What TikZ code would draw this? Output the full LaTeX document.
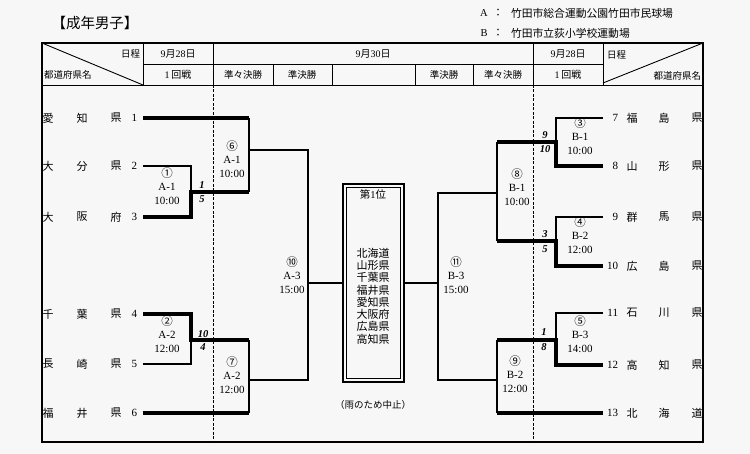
\documentclass[tikz,border=0pt]{standalone}
\usepackage{fontspec}
\setmainfont{Liberation Serif}
\newfontfamily\jp{Noto Sans CJK JP}
\newcommand\LeftTeam[6]{%
  \node[tn] (#1a) at (48,#2) {#3};
  \node[tn] (#1b) at (82,#2) {#4};
  \node[tn] (#1c) at (116,#2) {#5};
  \node[num, anchor=east] (#1n) at (137,#2) {#6};
  \coordinate (#1) at (143,#2);}
\newcommand\RightTeam[6]{%
  \node[num, anchor=east] (#1n) at (618,#2) {#6};
  \node[tn] (#1a) at (632,#2) {#3};
  \node[tn] (#1b) at (664,#2) {#4};
  \node[tn] (#1c) at (697,#2) {#5};
  \coordinate (#1) at (603,#2);}
\newcommand\circnum[1]{{\jp\fontsize{11.5}{13.5}\selectfont #1}}
\begin{document}
\begin{tikzpicture}[x=1pt,y=-1pt,
  every node/.style={inner sep=0pt, outer sep=0pt},
  thinln/.style={line width=1.1pt, line join=miter},
  thickln/.style={line width=3.2pt, line join=miter},
  border/.style={line width=2pt},
  grid/.style={line width=0.9pt},
  dashln/.style={line width=0.9pt, dash pattern=on 3pt off 1.5pt},
  hdr/.style={font=\jp\fontsize{9.5}{11}\selectfont},
  hdrn/.style={font=\fontsize{10}{11}\selectfont},
  tn/.style={font=\jp\fontsize{11}{12}\selectfont},
  num/.style={font=\fontsize{11}{12}\selectfont},
  lbl/.style={align=center, font=\fontsize{11}{13.5}\selectfont},
  score/.style={font=\bfseries\itshape\fontsize{10.5}{12}\selectfont},
  leg/.style={font=\jp\fontsize{10.8}{12}\selectfont, anchor=west},
]
\path[fill=black!3] (0,0) rectangle (750,454);
\useasboundingbox (0,0) rectangle (750,454);

% title and legend
\node[font=\jp\fontsize{14.5}{16}\selectfont] (title) at (95,23) {【成年男子】};
\node[font=\fontsize{10.5}{12}\selectfont] (la) at (484,13) {A};
\node[font=\jp\fontsize{10.5}{12}\selectfont] (lac) at (498,13) {：};
\node[leg] (lat) at (511,13) {竹田市総合運動公園竹田市民球場};
\node[font=\fontsize{10.5}{12}\selectfont] (lb) at (484,33) {B};
\node[font=\jp\fontsize{10.5}{12}\selectfont] (lbc) at (498,33) {：};
\node[leg] (lbt) at (511,33) {竹田市立荻小学校運動場};

% table frame
\draw[border] (42,43) rectangle (703,442);
\draw[grid] (143,64) -- (603,64);
\draw[grid] (42,85) -- (703,85);
\foreach \x in {143,213,533,603} \draw[grid] (\x,43) -- (\x,85);
\foreach \x in {273,332,415,473} \draw[grid] (\x,64) -- (\x,85);
\draw[grid] (42,43) -- (143,85);
\draw[grid] (603,83) -- (703,43);
\draw[dashln] (213,85) -- (213,442);
\draw[dashln] (533,85) -- (533,442);

% header texts
\node[hdr, anchor=east] (h1) at (140,54) {日程};
\node[hdr, anchor=west] (h2) at (44,75) {都道府県名};
\node[hdrn] (h3) at (178,54) {9{\jp 月}28{\jp 日}};
\node[hdrn] (h4) at (178,75) {1\,{\jp 回戦}};
\node[hdrn] (h5) at (373,54) {9{\jp 月}30{\jp 日}};
\node[hdr] (h6) at (243,75) {準々決勝};
\node[hdr] (h7) at (302,75) {準決勝};
\node[hdr] (h8) at (444,75) {準決勝};
\node[hdr] (h9) at (503,75) {準々決勝};
\node[hdrn] (h10) at (568,54) {9{\jp 月}28{\jp 日}};
\node[hdrn] (h11) at (568,75) {1\,{\jp 回戦}};
\node[hdr, anchor=west] (h12) at (607,55) {日程};
\node[hdr, anchor=east] (h13) at (701,76) {都道府県名};

% teams
\LeftTeam{t1}{118}{愛}{知}{県}{1}
\LeftTeam{t2}{166}{大}{分}{県}{2}
\LeftTeam{t3}{217}{大}{阪}{府}{3}
\LeftTeam{t4}{314}{千}{葉}{県}{4}
\LeftTeam{t5}{364}{長}{崎}{県}{5}
\LeftTeam{t6}{413}{福}{井}{県}{6}
\RightTeam{t7}{118}{福}{島}{県}{7}
\RightTeam{t8}{166}{山}{形}{県}{8}
\RightTeam{t9}{217}{群}{馬}{県}{9}
\RightTeam{t10}{266}{広}{島}{県}{10}
\RightTeam{t11}{313}{石}{川}{県}{11}
\RightTeam{t12}{365}{高}{知}{県}{12}
\RightTeam{t13}{413}{北}{海}{道}{13}

% junctions
\coordinate (m1x) at (191,192);
\coordinate (m2x) at (191,340);
\coordinate (m6x) at (249,150);
\coordinate (m7x) at (249,380);
\coordinate (m10x) at (308,283);
\coordinate (m3x) at (556,142);
\coordinate (m4x) at (556,241);
\coordinate (m5x) at (556,340);
\coordinate (m8x) at (497,193);
\coordinate (m9x) at (497,380);
\coordinate (m11x) at (438,283);

% central box
\node[draw, line width=2pt, minimum width=61pt, minimum height=198pt] (box) at (373.5,283) {};
\node[draw, line width=0.7pt, minimum width=54pt, minimum height=191pt] (boxin) at (box.center) {};
\node[font=\jp\fontsize{10.5}{12}\selectfont] (first) at (373,194) {第{\rmfamily 1}位};
\node[align=center, font=\jp\fontsize{11}{12.3}\selectfont] (list) at (373,296)
  {北海道\\山形県\\千葉県\\福井県\\愛知県\\大阪府\\広島県\\高知県};
\node[font=\jp\fontsize{9.5}{11}\selectfont] (rain) at (373,405) {（雨のため中止）};

% left bracket
\draw[thickln] (t1) -- (t1 -| m6x);
\draw[thinln] (t2) -| (m1x);
\draw[thickln] (t3) -| (m1x) -- (m1x -| m6x);
\draw[thinln] (t1 -| m6x) -- (m1x -| m6x);
\draw[thickln] (t4) -| (m2x) -- (m2x -| m7x);
\draw[thinln] (t5) -| (m2x);
\draw[thickln] (t6) -- (t6 -| m7x);
\draw[thinln] (m2x -| m7x) -- (t6 -| m7x);
\draw[thinln] (m6x) -| (m10x) |- (m7x);
\draw[thinln] (m10x) -- (box.west);

% right bracket
\draw[thinln] (t7) -| (m3x);
\draw[thickln] (t8) -| (m3x) -- (m3x -| m8x);
\draw[thinln] (t9) -| (m4x);
\draw[thickln] (t10) -| (m4x) -- (m4x -| m8x);
\draw[thinln] (m3x -| m8x) -- (m4x -| m8x);
\draw[thinln] (t11) -| (m5x);
\draw[thickln] (t12) -| (m5x) -- (m5x -| m9x);
\draw[thickln] (t13) -- (t13 -| m9x);
\draw[thinln] (m5x -| m9x) -- (t13 -| m9x);
\draw[thinln] (m8x) -| (m11x) |- (m9x);
\draw[thinln] (box.east) -- (m11x);

% match labels
\node[lbl] (m1) at (167,186) {\circnum{①}\\A-1\\10:00};
\node[lbl] (m2) at (167,334) {\circnum{②}\\A-2\\12:00};
\node[lbl] (m6) at (232,159) {\circnum{⑥}\\A-1\\10:00};
\node[lbl] (m7) at (232,375) {\circnum{⑦}\\A-2\\12:00};
\node[lbl] (m10) at (292,275) {\circnum{⑩}\\A-3\\15:00};
\node[lbl] (m11) at (456,275) {\circnum{⑪}\\B-3\\15:00};
\node[lbl] (m3) at (580,136) {\circnum{③}\\B-1\\10:00};
\node[lbl] (m4) at (580,235) {\circnum{④}\\B-2\\12:00};
\node[lbl] (m5) at (580,334) {\circnum{⑤}\\B-3\\14:00};
\node[lbl] (m8) at (517,187) {\circnum{⑧}\\B-1\\10:00};
\node[lbl] (m9) at (515,374) {\circnum{⑨}\\B-2\\12:00};

% scores
\node[score] (s1a) at (202,185) {1};
\node[score] (s1b) at (202,199) {5};
\node[score] (s2a) at (203,334) {10};
\node[score] (s2b) at (203,347) {4};
\node[score] (s3a) at (545,135) {9};
\node[score] (s3b) at (545,149) {10};
\node[score] (s4a) at (545,234) {3};
\node[score] (s4b) at (545,249) {5};
\node[score] (s5a) at (544,332) {1};
\node[score] (s5b) at (544,347) {8};
\end{tikzpicture}
\end{document}
